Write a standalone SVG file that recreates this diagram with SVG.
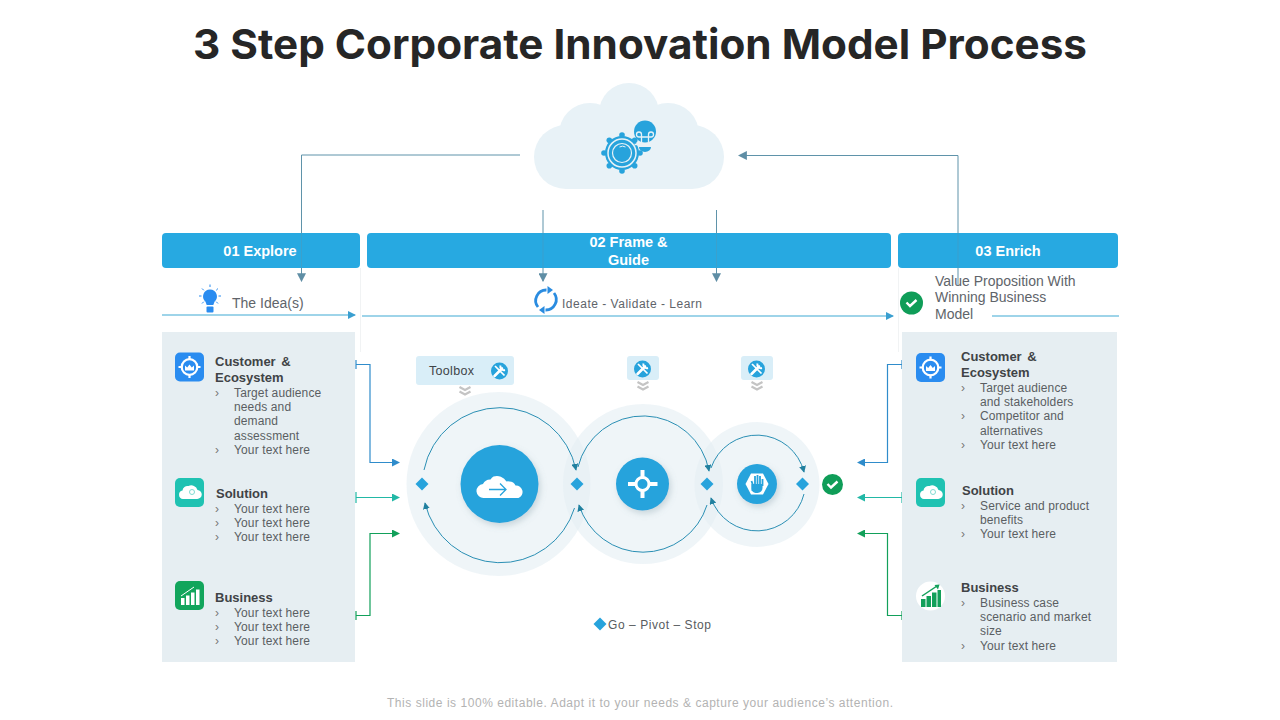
<svg xmlns="http://www.w3.org/2000/svg" xmlns:xlink="http://www.w3.org/1999/xlink" width="1280" height="720" viewBox="0 0 1280 720">
<style>
text{font-family:"Liberation Sans",Arial,sans-serif}
.title{font-family:Inter,"Liberation Sans",sans-serif;font-weight:700;font-size:41px;fill:#262626;font-variant-ligatures:none}
.hd{font-weight:700;font-size:14.5px;fill:#fff;text-anchor:middle}
.h{font-weight:700;font-size:13px;fill:#404346}
.t{font-size:12px;fill:#5a5e62;letter-spacing:.13px}
.b{font-size:12px;fill:#777}
.lab{font-size:14px;fill:#60646a}
.panel{fill:#e6eef2}
.halo{fill:#e4eef4;fill-opacity:.6}
.arc{fill:none;stroke:#2a8fb4;stroke-width:1;marker-end:url(#a)}
.grey{fill:none;stroke:#5f93aa;stroke-width:1}
.mid{fill:none;stroke:#3fa9d4;stroke-width:1.2}
.bl{fill:none;stroke:#2f8ccb;stroke-width:1.2}
.te{fill:none;stroke:#22b8a6;stroke-width:1.2}
.gr{fill:none;stroke:#12a05a;stroke-width:1.2}
.dia{fill:#27a3dc}
.chev{fill:none;stroke:#c4c4c4;stroke-width:2.2}
.disc{fill:#27a3dc;filter:url(#s)}
</style>
<defs>
<filter id="s" x="-20%" y="-20%" width="150%" height="150%"><feDropShadow dx="2" dy="3" stdDeviation="3" flood-color="#6f8a99" flood-opacity=".3"/></filter>
<marker id="a" viewBox="0 0 8 8" refX="7" refY="4" markerWidth="7" markerHeight="7" orient="auto" markerUnits="userSpaceOnUse"><path d="M0 0L8 4L0 8z" fill="#20809f"/></marker>
<marker id="mg" viewBox="0 0 8 8" refX="7" refY="4" markerWidth="9" markerHeight="9" orient="auto" markerUnits="userSpaceOnUse"><path d="M0 0L8 4L0 8z" fill="#5f8ea5"/></marker>
<marker id="mm" viewBox="0 0 8 8" refX="7" refY="4" markerWidth="8" markerHeight="8" orient="auto" markerUnits="userSpaceOnUse"><path d="M0 0L8 4L0 8z" fill="#3a9fd0"/></marker>
<marker id="mb" viewBox="0 0 8 8" refX="7" refY="4" markerWidth="8" markerHeight="8" orient="auto" markerUnits="userSpaceOnUse"><path d="M0 0L8 4L0 8z" fill="#2f8ccb"/></marker>
<marker id="mt" viewBox="0 0 8 8" refX="7" refY="4" markerWidth="8" markerHeight="8" orient="auto" markerUnits="userSpaceOnUse"><path d="M0 0L8 4L0 8z" fill="#22b8a6"/></marker>
<marker id="mr" viewBox="0 0 8 8" refX="7" refY="4" markerWidth="8" markerHeight="8" orient="auto" markerUnits="userSpaceOnUse"><path d="M0 0L8 4L0 8z" fill="#12a05a"/></marker>
<g id="tgt">
<rect x="0" y="0" width="29" height="29" rx="5" fill="#2a8cf0"/>
<circle cx="14.500" cy="14.500" r="7.800" fill="none" stroke="#fff" stroke-width="2.200"/>
<path d="M14.500 3.500v4M14.500 21.500v4M3.500 14.500h4M21.500 14.500h4" stroke="#fff" stroke-width="2.200"/>
<path d="M10 18v-5l2.200 2 2.300-3 2.300 3 2.200-2v5z" fill="#fff"/>
</g>
<g id="cld">
<rect x="0" y="0" width="29" height="29" rx="5" fill="#1fc2b2"/>
<path d="M8 21a4.300 4.300 0 0 1-.5-8.500 5 5 0 0 1 6-4.500 6.500 6.500 0 0 1 9 4 4.500 4.500 0 0 1-.5 9z" fill="#fff"/>
<circle cx="17" cy="14" r="2.500" fill="none" stroke="#7fdcd2" stroke-width="1"/>
</g>
<g id="bars">
<path d="M0 16h3.500v7H0zM5 13.500h3.500V23H5zM10 10.500h3.500V23H10zM15 7.500h3.500V23H15z"/>
</g>
<g id="wr">
<circle r="8.500" fill="#27a3dc"/>
<path d="M-5 5L2.500-2.500" stroke="#fff" stroke-width="2.600" stroke-linecap="round"/>
<path d="M1-5.500a3.600 3.600 0 0 0 4.500 4.500" fill="none" stroke="#fff" stroke-width="2"/>
<path d="M-4.500-5L5 4.500" stroke="#fff" stroke-width="1.700"/>
</g>
<g id="chv"><path class="chev" d="M-5.500 0L0 3L5.500 0M-5.500 4.500L0 7.500L5.500 4.500"/></g>
<path id="chk" d="M-5-.5L-1.500 3L5-3" fill="none" stroke="#fff" stroke-width="2.400"/>
</defs>

<rect width="1280" height="720" fill="#fff"/>
<text class="title" x="193" y="59" textLength="894" lengthAdjust="spacingAndGlyphs">3 Step Corporate Innovation Model Process</text>

<g id="connectors">
<path d="M360.500 268V352M898.500 268V352" stroke="#f1f3f4" fill="none"/>
<path class="grey" d="M520 155H301.500V281" marker-end="url(#mg)"/>
<path class="grey" d="M958 286V155.500H739" marker-end="url(#mg)"/>
<path class="grey" d="M543 210V281" marker-end="url(#mg)"/>
<path class="grey" d="M716.500 210V281" marker-end="url(#mg)"/>
<path class="mid" d="M162 315H355" marker-end="url(#mm)"/>
<path class="mid" d="M362 316H893" marker-end="url(#mm)"/>
<path class="mid" d="M992 316H1119"/>
<path class="bl" d="M356 360V369M356 364.500H370V462.500H399" marker-end="url(#mb)"/>
<path class="te" d="M356 492V503M356 497.500H399" marker-end="url(#mt)"/>
<path class="gr" d="M356 611V620M356 615.500H370V533.500H399" marker-end="url(#mr)"/>
<path class="bl" d="M902 360V369M902 364.500H887.500V462.500H858" marker-end="url(#mb)"/>
<path class="te" d="M902 492V503M902 497.500H858" marker-end="url(#mt)"/>
<path class="gr" d="M902 611V620M902 615.500H887.500V533.500H858" marker-end="url(#mr)"/>
</g>

<g id="cloud">
<g fill="#e8f2f7"><circle cx="629" cy="113" r="30"/><circle cx="590" cy="134" r="31"/><circle cx="668" cy="134" r="31"/><circle cx="566" cy="157" r="32"/><circle cx="692" cy="157" r="32"/><rect x="566" y="125" width="126" height="64"/></g>
<g fill="#27a3dc">
<circle cx="622" cy="153" r="17"/>
<g><circle cx="622" cy="135" r="2.800"/><circle cx="622" cy="171" r="2.800"/><circle cx="604" cy="153" r="2.800"/><circle cx="640" cy="153" r="2.800"/><circle cx="609.300" cy="140.300" r="2.800"/><circle cx="634.700" cy="140.300" r="2.800"/><circle cx="609.300" cy="165.700" r="2.800"/><circle cx="634.700" cy="165.700" r="2.800"/></g>
<circle cx="622" cy="153" r="14" fill="none" stroke="#e8f2f7" stroke-width="1.500"/>
<circle cx="622" cy="153" r="9.500" fill="none" stroke="#e8f2f7" stroke-width="1.200"/>
<path d="M619.500 147a6 6 0 0 1 6 0" fill="none" stroke="#e8f2f7" stroke-width="1"/>
<circle cx="645" cy="131.500" r="11"/>
<path d="M639 147h12a6 5 0 0 1-12 0z"/>
</g>
<path d="M641.500 143v-8.500a2.500 2.500 0 1 0-2.500 2.500h12a2.500 2.500 0 1 0-2.500-2.500v8.500M634.500 144.500h20" fill="none" stroke="#e8f2f7" stroke-width="1.300"/>
</g>

<g id="step1"><rect x="162" y="233" width="198" height="35" rx="4" fill="#27a9e1"/><text class="hd" x="260" y="256">01 Explore</text></g>
<g id="step2"><rect x="367" y="233" width="524" height="35" rx="4" fill="#27a9e1"/><text class="hd" x="628.500" y="247">02 Frame &amp;</text><text class="hd" x="628.500" y="265">Guide</text></g>
<g id="step3"><rect x="898" y="233" width="220" height="35" rx="4" fill="#27a9e1"/><text class="hd" x="1008" y="256">03 Enrich</text></g>
<path d="M301.500 233V268M543 233V268M716.500 233V268M958 233V268" stroke="#5f93aa" stroke-opacity=".35" fill="none"/>

<g id="idea">
<path d="M210 289.500a7 7 0 0 1 4.500 12.300l-1.200 3.200h-6.600l-1.200-3.200a7 7 0 0 1 4.500-12.300z" fill="#2a8cf0"/>
<rect x="206.500" y="306.500" width="7" height="6" rx="1" fill="#2a8cf0"/>
<path d="M210 284.500v2.500M199 296h2.500M218.500 296h2.500M202 288.500l1.800 1.800M218 288.500l-1.800 1.800M202 303.500l1.800-1.800M218 303.500l-1.800-1.800" stroke="#2a8cf0" stroke-width="1"/>
<text class="lab" x="232" y="308">The Idea(s)</text>
</g>
<g id="ideate">
<path d="M538 307a10.500 10.500 0 0 1 8.500-17M554 293a10.500 10.500 0 0 1-8.500 17" fill="none" stroke="#2a8ce0" stroke-width="2.800"/>
<path d="M547.500 286l5.500 4-5.500 4zM544.500 306l-5.500 4 5.500 4z" fill="#2a8ce0"/>
<text x="562" y="308" font-size="12" fill="#60646a" textLength="140">Ideate - Validate - Learn</text>
</g>
<g id="value">
<circle cx="911.500" cy="303" r="11.500" fill="#0f9d58"/><use href="#chk" x="911.500" y="303"/>
<text class="lab" x="935" y="286">Value Proposition With</text>
<text class="lab" x="935" y="302">Winning Business</text>
<text class="lab" x="935" y="319">Model</text>
</g>

<g id="left-panel">
<rect class="panel" x="162" y="332" width="193" height="330"/>
<g id="l-customer"><use href="#tgt" x="175" y="352.500"/>
<text class="h" x="215" y="366" word-spacing="2">Customer &amp;</text><text class="h" x="215" y="382">Ecosystem</text>
<text class="b" x="215" y="397">›</text><text class="t" x="234" y="397">Target audience</text><text class="t" x="234" y="411">needs and</text><text class="t" x="234" y="425">demand</text><text class="t" x="234" y="440">assessment</text>
<text class="b" x="215" y="454">›</text><text class="t" x="234" y="454">Your text here</text></g>
<g id="l-solution"><use href="#cld" x="175" y="478"/>
<text class="h" x="216" y="498">Solution</text>
<text class="b" x="215" y="513">›</text><text class="t" x="234" y="513">Your text here</text>
<text class="b" x="215" y="527">›</text><text class="t" x="234" y="527">Your text here</text>
<text class="b" x="215" y="541">›</text><text class="t" x="234" y="541">Your text here</text></g>
<g id="l-business"><rect x="175" y="581" width="29" height="29" rx="5" fill="#12a55c"/><use href="#bars" x="181" y="582" fill="#fff"/><path d="M181 596l13-9" stroke="#fff" fill="none"/>
<text class="h" x="215" y="602">Business</text>
<text class="b" x="215" y="617">›</text><text class="t" x="234" y="617">Your text here</text>
<text class="b" x="215" y="631">›</text><text class="t" x="234" y="631">Your text here</text>
<text class="b" x="215" y="645">›</text><text class="t" x="234" y="645">Your text here</text></g>
</g>

<g id="right-panel">
<rect class="panel" x="902" y="332" width="215" height="330"/>
<g id="r-customer"><use href="#tgt" x="916" y="353"/>
<text class="h" x="961" y="361" word-spacing="2">Customer &amp;</text><text class="h" x="961" y="377">Ecosystem</text>
<text class="b" x="961" y="392">›</text><text class="t" x="980" y="392">Target audience</text><text class="t" x="980" y="406">and stakeholders</text>
<text class="b" x="961" y="420">›</text><text class="t" x="980" y="420">Competitor and</text><text class="t" x="980" y="435">alternatives</text>
<text class="b" x="961" y="449">›</text><text class="t" x="980" y="449">Your text here</text></g>
<g id="r-solution"><use href="#cld" x="916" y="478"/>
<text class="h" x="962" y="495">Solution</text>
<text class="b" x="961" y="510">›</text><text class="t" x="980" y="510">Service and product</text><text class="t" x="980" y="524">benefits</text>
<text class="b" x="961" y="538">›</text><text class="t" x="980" y="538">Your text here</text></g>
<g id="r-business"><circle cx="930.500" cy="596" r="14.500" fill="#fff"/><path d="M921 599h4.500v8H921zM926.500 596h4.500v11h-4.500zM932 592.500h4.500v14.500H932zM937.500 590h3.500v17h-3.500z" fill="#12a05a"/><path d="M922 596l15-10" stroke="#12a05a" stroke-width="1.500" fill="none"/><path d="M934.500 585l5-.5-1.500 5z" fill="#12a05a"/>
<text class="h" x="961" y="592">Business</text>
<text class="b" x="961" y="607">›</text><text class="t" x="980" y="607">Business case</text><text class="t" x="980" y="621">scenario and market</text><text class="t" x="980" y="635">size</text>
<text class="b" x="961" y="650">›</text><text class="t" x="980" y="650">Your text here</text></g>
</g>

<g id="halos">
<circle class="halo" cx="498.500" cy="484" r="92"/>
<circle class="halo" cx="643" cy="484" r="80"/>
<circle class="halo" cx="757" cy="484.500" r="62.500"/>
</g>
<g id="stage1">
<path class="arc" d="M424 470A77.500 77.500 0 0 1 576 470"/>
<path class="arc" d="M574.500 508A77.500 77.500 0 0 1 425 503"/>
<circle class="disc" cx="499.500" cy="484" r="39"/>
<path d="M484 498a7 7 0 0 1-1-14 8 8 0 0 1 7.500-4.500 12 12 0 0 1 3-3 11 11 0 0 1 13 5 8 8 0 0 1 3 0 7 7 0 0 1 6 4 6.500 6.500 0 0 1 3 12.500z" fill="#fff"/>
<path d="M489 489.500h17M500 483.500l6 6-6 6" fill="none" stroke="#27a3dc" stroke-width="1.300"/>
</g>
<g id="stage2">
<path class="arc" d="M578 467A67 67 0 0 1 709 471"/>
<path class="arc" d="M707 505A67 67 0 0 1 579 505"/>
<circle class="disc" cx="642.500" cy="484" r="26.500"/>
<circle cx="642.500" cy="484" r="6.500" fill="none" stroke="#fff" stroke-width="3"/>
<path d="M642.500 470v7M642.500 491v7M628 484h7.500M650 484h7.500" stroke="#fff" stroke-width="4"/>
</g>
<g id="stage3">
<path class="arc" d="M711 468A48.500 48.500 0 0 1 804 472"/>
<path class="arc" d="M804 494A48.500 48.500 0 0 1 711 498"/>
<circle class="disc" cx="757" cy="484" r="20"/>
<path d="M751 473.500h12l5.500 10.500-5.500 10.500h-12l-5.500-10.500z" fill="#fff"/>
<path d="M752.500 491v-7l-1-3M755 484v-8M757.500 484v-9M760 484v-8M762.500 486v-7" stroke="#27a3dc" stroke-width="1.800" fill="none"/>
<path d="M751.500 484h11v4a5 5 0 0 1-5 5h-2a5 5 0 0 1-4-4z" fill="#27a3dc"/>
</g>
<g id="gates">
<path class="dia" d="M422 477.500l6.500 6.500-6.500 6.500-6.500-6.500z"/>
<path class="dia" d="M577 477.500l6.500 6.500-6.500 6.500-6.500-6.500z"/>
<path class="dia" d="M707 477.500l6.500 6.500-6.500 6.500-6.500-6.500z"/>
<path class="dia" d="M802.500 477.500l6.500 6.500-6.500 6.500-6.500-6.500z"/>
<circle cx="832.500" cy="484.500" r="10.500" fill="#0f9d58"/><use href="#chk" x="832.500" y="484.500"/>
</g>

<g id="toolbox">
<rect x="416" y="356" width="98" height="29" rx="3" fill="#d9eef8"/>
<text x="429" y="375" font-size="12.500" fill="#3f4448" textLength="45">Toolbox</text>
<use href="#wr" x="499.500" y="371"/><use href="#chv" x="465" y="387"/>
</g>
<g id="tool2"><rect x="627" y="356" width="32" height="24" rx="3" fill="#d9eef8"/><use href="#wr" x="642.500" y="369"/><use href="#chv" x="643" y="382"/></g>
<g id="tool3"><rect x="741" y="356" width="32" height="24" rx="3" fill="#d9eef8"/><use href="#wr" x="756.500" y="369"/><use href="#chv" x="757" y="382"/></g>

<g id="legend"><path class="dia" d="M600 617.500l6.500 6.500-6.500 6.500-6.500-6.500z"/><text x="608" y="629" font-size="12" fill="#585c60" textLength="103">Go – Pivot – Stop</text></g>
<text x="640" y="707" font-size="12" fill="#b3b3b3" text-anchor="middle" textLength="506">This slide is 100% editable. Adapt it to your needs &amp; capture your audience’s attention.</text>
</svg>
